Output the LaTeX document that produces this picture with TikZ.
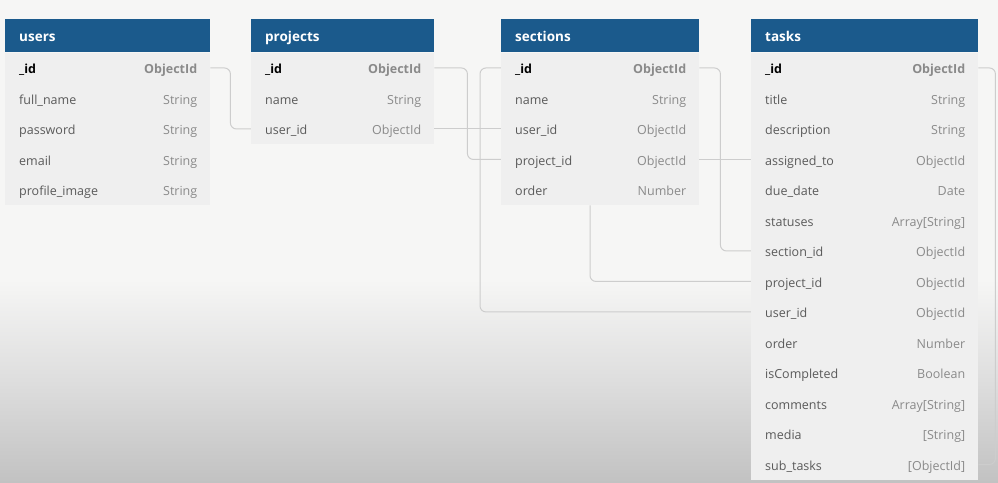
\documentclass[tikz,border=0pt]{standalone}
\usepackage{fontspec}
\setmainfont{Open Sans}
\pgfdeclarelayer{bg}
\pgfsetlayers{bg,main}

\definecolor{hdrblue}{HTML}{1B5A8C}
\definecolor{bodygray}{HTML}{EFEFEF}
\definecolor{namegray}{HTML}{5A5A5A}
\definecolor{typegray}{HTML}{8A8A8A}
\definecolor{linkgray}{HTML}{CDCDCD}
\definecolor{bgtop}{HTML}{F6F6F5}
\definecolor{bgmid}{HTML}{DEDEDE}
\definecolor{bgbot}{HTML}{C2C2C2}

% canvas: flat light top, darkening towards the bottom edge
\pgfdeclareverticalshading{canvasfade}{100bp}{%
  color(0bp)=(bgbot); color(25bp)=(bgbot); color(35.6bp)=(bgmid);
  color(46bp)=(bgtop); color(100bp)=(bgtop)}

% primary-key row text
\newcommand\pkname[1]{\textcolor{black}{\bfseries #1}}
\newcommand\pktype[1]{{\bfseries #1}}

% one collection: #1 id, #2 left x, #3 width, #4 title, #5 key/field/type rows
\newcommand\erdtable[5]{%
  \node[tblhead, minimum width=#3pt] (#1-head) at (#2,19) {};
  \node[tbltitle] (#1-title) at ([xshift=14pt]#1-head.west) {#4};
  \foreach \key/\field/\type [count=\i] in {#5} {
    \node[tblrow, minimum width=#3pt] (#1-\key) at (#2,{52.5+(\i-1)*30.5}) {};
    \node[fieldname] (#1-\key-name) at ([xshift=14pt]#1-\key.west) {\field};
    \node[fieldtype] (#1-\key-type) at ([xshift=-13pt]#1-\key.east) {\type};
  }%
}

\begin{document}
\begin{tikzpicture}[x=1pt,y=-1pt,
  tblhead/.style={anchor=north west, minimum height=33pt, inner sep=0pt,
    fill=hdrblue, draw=none},
  tbltitle/.style={anchor=west, inner sep=0pt, text=white,
    font=\bfseries\fontsize{13.5}{16}\selectfont, text height=12pt, text depth=1pt},
  tblrow/.style={anchor=north west, minimum height=30.5pt, inner sep=0pt,
    fill=bodygray, draw=none},
  fieldname/.style={anchor=west, inner sep=0pt, text=namegray,
    font=\fontsize{12.5}{15}\selectfont, text height=12pt, text depth=0pt},
  fieldtype/.style={anchor=east, inner sep=0pt, text=typegray,
    font=\fontsize{12.5}{15}\selectfont, text height=12pt, text depth=0pt},
  link/.style={draw=linkgray, line width=1pt, rounded corners=6pt}]

\useasboundingbox (0,0) rectangle (998,482);

\erdtable{users}{5}{205}{users}{%
  id/{\pkname{\_id}}/{\pktype{ObjectId}},
  fullname/full\_name/String,
  password/password/String,
  email/email/String,
  profileimage/profile\_image/String}

\erdtable{projects}{251}{183}{projects}{%
  id/{\pkname{\_id}}/{\pktype{ObjectId}},
  name/name/String,
  userid/user\_id/ObjectId}

\erdtable{sections}{501}{198}{sections}{%
  id/{\pkname{\_id}}/{\pktype{ObjectId}},
  name/name/String,
  userid/user\_id/ObjectId,
  projectid/project\_id/ObjectId,
  order/order/Number}

\erdtable{tasks}{751}{227}{tasks}{%
  id/{\pkname{\_id}}/{\pktype{ObjectId}},
  title/title/String,
  description/description/String,
  assignedto/assigned\_to/ObjectId,
  duedate/due\_date/Date,
  statuses/statuses/{Array[String]},
  sectionid/section\_id/ObjectId,
  projectid/project\_id/ObjectId,
  userid/user\_id/ObjectId,
  order/order/Number,
  iscompleted/isCompleted/Boolean,
  comments/comments/{Array[String]},
  media/media/{[String]},
  subtasks/sub\_tasks/{[ObjectId]}}

\coordinate (sections-drop) at ([xshift=89pt]sections-order.south west);

\begin{pgfonlayer}{bg}
  \shade[shading=canvasfade] (0,0) rectangle (998,482);
  % relations
  \draw[link] (users-id.east) -- ++(20,0) |- (projects-userid.west);
  \draw[link] (projects-userid.east) -- (sections-userid.west);
  \draw[link] (projects-id.east) -- ++(33,0) |- (sections-projectid.west);
  \draw[link] (sections-id.west) -- ++(-21,0) |- (tasks-userid.west);
  \draw[link] (sections-id.east) -- ++(21,0) |- (tasks-sectionid.west);
  \draw[link] (sections-projectid.east) -- (tasks-assignedto.west);
  \draw[link] (sections-drop) |- (tasks-projectid.west);
  \draw[link] (tasks-id.east) -- ++(17,0) |- (tasks-subtasks.east);
\end{pgfonlayer}
\end{tikzpicture}
\end{document}
